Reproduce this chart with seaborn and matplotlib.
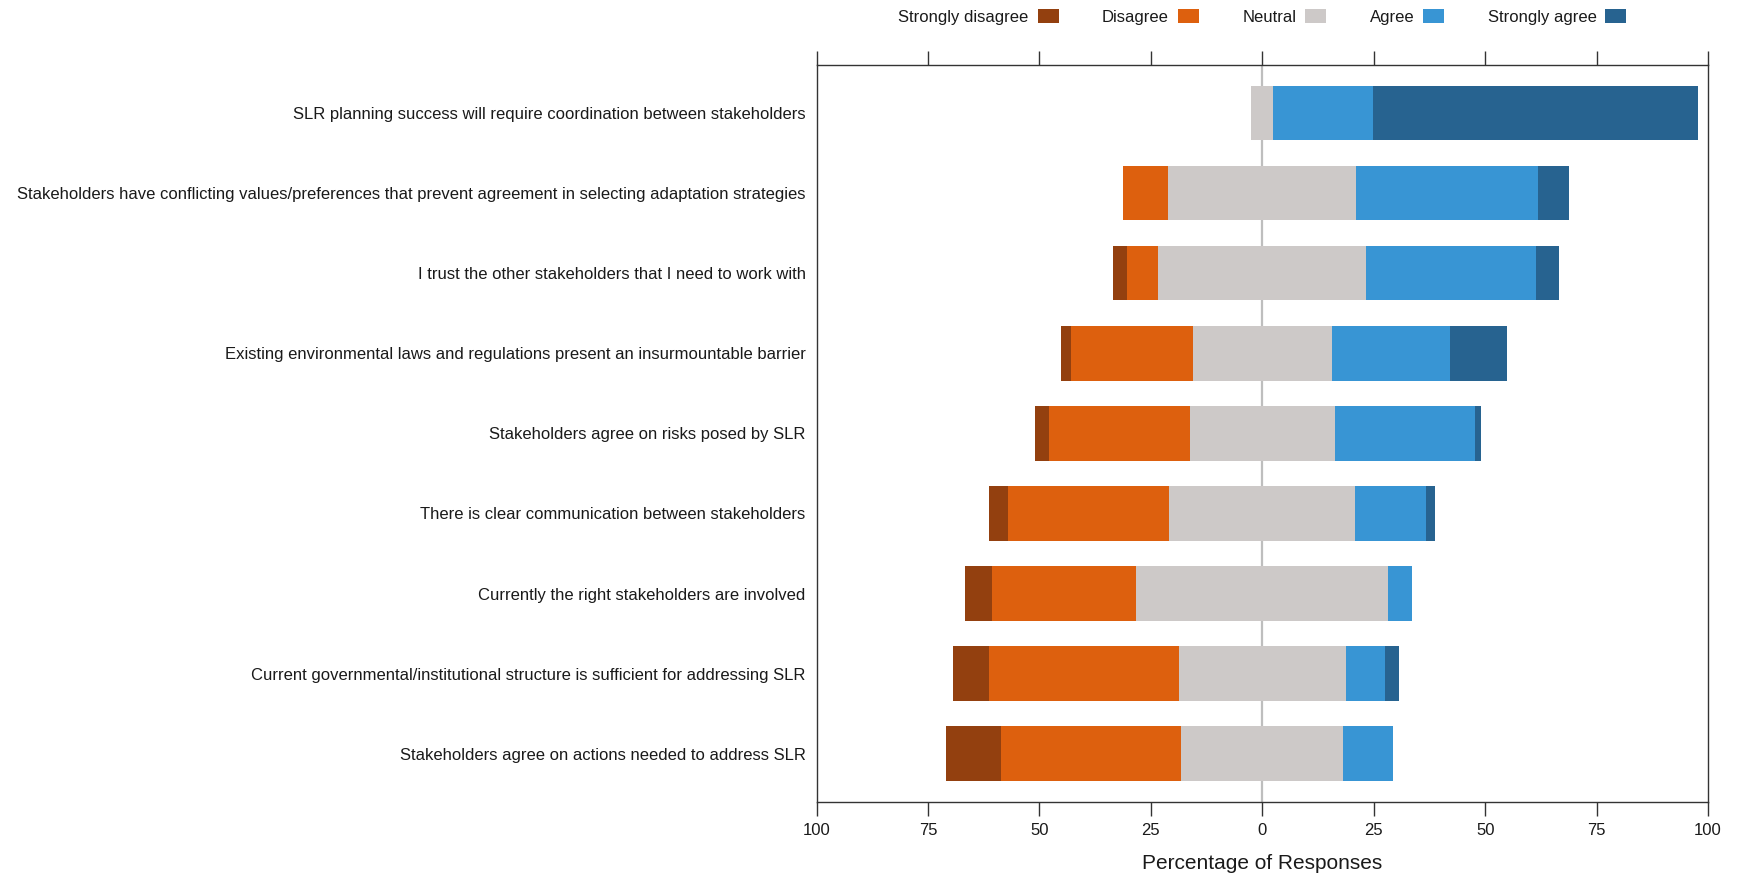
import matplotlib
matplotlib.use("Agg")
import matplotlib.pyplot as plt
from matplotlib.patches import Patch
import seaborn as sns
import pandas as pd
import numpy as np

questions = [
    "SLR planning success will require coordination between stakeholders",
    "Stakeholders have conflicting values/preferences that prevent agreement in selecting adaptation strategies",
    "I trust the other stakeholders that I need to work with",
    "Existing environmental laws and regulations present an insurmountable barrier",
    "Stakeholders agree on risks posed by SLR",
    "There is clear communication between stakeholders",
    "Currently the right stakeholders are involved",
    "Current governmental/institutional structure is sufficient for addressing SLR",
    "Stakeholders agree on actions needed to address SLR",
]
strongly_disagree = [0.0, 0.0, 3.2, 2.2, 3.3, 4.2, 6.1, 8.1, 12.2]
disagree = [0.0, 10.1, 7.0, 27.4, 31.6, 36.3, 32.4, 42.6, 40.5]
neutral = [4.9, 42.2, 46.7, 31.1, 32.4, 41.7, 56.5, 37.5, 36.4]
agree = [22.3, 40.7, 38.0, 26.5, 31.6, 15.8, 5.3, 8.8, 11.1]
strongly_agree = [73.1, 7.1, 5.2, 12.9, 1.3, 2.2, 0.0, 3.1, 0.0]

levels = ["Strongly disagree", "Disagree", "Neutral", "Agree", "Strongly agree"]
colors = ["#93400F", "#DD600E", "#CDC9C8", "#3895D4", "#276390"]

sns.set_theme(style="white")
plt.rcParams["font.family"] = ["Liberation Sans", "DejaVu Sans"]
plt.rcParams["text.color"] = "#1a1a1a"
plt.rcParams["axes.labelcolor"] = "#1a1a1a"
plt.rcParams["xtick.color"] = "#1a1a1a"
plt.rcParams["ytick.color"] = "#1a1a1a"

df = pd.DataFrame({
    "question": questions,
    "sd": strongly_disagree,
    "d": disagree,
    "n": neutral,
    "a": agree,
    "sa": strongly_agree,
})
half = df["n"] / 2.0

fig = plt.figure(figsize=(17.42, 8.76), dpi=100)
ax = fig.add_axes([0.4688, 0.0848, 0.5117, 0.841])

ax.axvline(0, color="#BEBEBE", lw=1.6, zorder=0.5)

layers = [
    (-(half + df["d"] + df["sd"]), df["sd"] > 0, colors[0]),
    (-(half + df["d"]), df["d"] > 0, colors[1]),
    (-half, df["n"] > 0, colors[2]),
    (half + df["a"] + df["sa"], df["sa"] > 0, colors[4]),
    (half + df["a"], df["a"] > 0, colors[3]),
    (half, df["n"] > 0, colors[2]),
]
for vals, mask, col in layers:
    sub = pd.DataFrame({"question": df["question"][mask], "value": vals[mask]})
    sns.barplot(data=sub, x="value", y="question", order=questions, orient="h",
                color=col, saturation=1, width=0.68, linewidth=0, ax=ax, zorder=2)

ax.set_xlim(-100, 100)
ax.set_ylim(8.6, -0.6)
ticks = np.arange(-100, 101, 25)
ax.set_xticks(ticks)
ax.set_xticklabels([str(abs(int(t))) for t in ticks])
ax.set_ylabel("")
ax.set_xlabel("Percentage of Responses", fontsize=15, labelpad=12)

ax.tick_params(axis="x", which="both", direction="out", length=10, width=1.0,
               top=True, bottom=True, labeltop=False, labelbottom=True,
               color="#333333", labelsize=12, pad=5)
ax.tick_params(axis="y", length=0, pad=8, labelsize=12)
for s in ax.spines.values():
    s.set_visible(True)
    s.set_color("#333333")
    s.set_linewidth(1.0)
ax.grid(False)

handles = [Patch(facecolor=c, edgecolor="none", label=l) for l, c in zip(levels, colors)]
fig.legend(handles=handles, loc="center", bbox_to_anchor=(0.7247, 0.981), ncol=5,
           frameon=False, markerfirst=False, handlelength=1.27, handleheight=0.93,
           handletextpad=0.53, columnspacing=2.6, fontsize=12)

fig.savefig("out.png", dpi=100)
